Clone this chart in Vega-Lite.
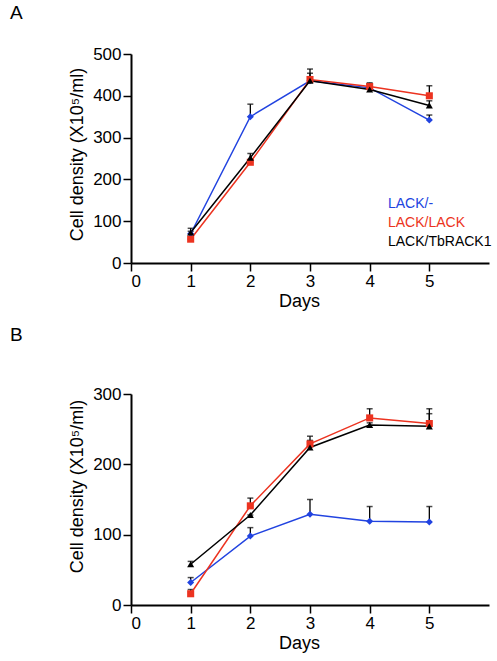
{
  "$schema": "https://vega.github.io/schema/vega-lite/v6.json",
  "padding": {"left": 10, "top": 4, "right": 2, "bottom": 2},
  "background": "white",
  "spacing": 16,
  "config": {
    "view": {"stroke": null},
    "font": "Liberation Sans",
    "axis": {
      "grid": false,
      "domainColor": "black",
      "domainWidth": 2,
      "tickColor": "black",
      "tickWidth": 1.5,
      "tickSize": 8,
      "labelFont": "Liberation Sans",
      "labelFontSize": 17,
      "labelColor": "black",
      "labelPadding": 2,
      "titleFont": "Liberation Sans",
      "titleFontSize": 18,
      "titleFontWeight": "normal",
      "titleColor": "black"
    },
    "title": {"font": "Liberation Sans", "fontSize": 19, "fontWeight": "normal", "color": "black", "anchor": "start", "frame": "group"}
  },
  "data": {"values": [
    {"panel": "A", "strain": "LACK/-", "day": 1, "value": 70, "upper": 76},
    {"panel": "A", "strain": "LACK/-", "day": 2, "value": 350, "upper": 380},
    {"panel": "A", "strain": "LACK/-", "day": 3, "value": 436, "upper": 440},
    {"panel": "A", "strain": "LACK/-", "day": 4, "value": 419, "upper": 428},
    {"panel": "A", "strain": "LACK/-", "day": 5, "value": 342, "upper": 354},
    {"panel": "A", "strain": "LACK/LACK", "day": 1, "value": 57, "upper": 57},
    {"panel": "A", "strain": "LACK/LACK", "day": 2, "value": 241, "upper": 241},
    {"panel": "A", "strain": "LACK/LACK", "day": 3, "value": 439, "upper": 454},
    {"panel": "A", "strain": "LACK/LACK", "day": 4, "value": 422, "upper": 431},
    {"panel": "A", "strain": "LACK/LACK", "day": 5, "value": 400, "upper": 424},
    {"panel": "A", "strain": "LACK/TbRACK1", "day": 1, "value": 73, "upper": 83},
    {"panel": "A", "strain": "LACK/TbRACK1", "day": 2, "value": 252, "upper": 262},
    {"panel": "A", "strain": "LACK/TbRACK1", "day": 3, "value": 436, "upper": 464},
    {"panel": "A", "strain": "LACK/TbRACK1", "day": 4, "value": 415, "upper": 428},
    {"panel": "A", "strain": "LACK/TbRACK1", "day": 5, "value": 377, "upper": 388},
    {"panel": "B", "strain": "LACK/-", "day": 1, "value": 32, "upper": 39},
    {"panel": "B", "strain": "LACK/-", "day": 2, "value": 98, "upper": 110},
    {"panel": "B", "strain": "LACK/-", "day": 3, "value": 129, "upper": 150},
    {"panel": "B", "strain": "LACK/-", "day": 4, "value": 119, "upper": 140},
    {"panel": "B", "strain": "LACK/-", "day": 5, "value": 118, "upper": 140},
    {"panel": "B", "strain": "LACK/LACK", "day": 1, "value": 16, "upper": 22},
    {"panel": "B", "strain": "LACK/LACK", "day": 2, "value": 141, "upper": 152},
    {"panel": "B", "strain": "LACK/LACK", "day": 3, "value": 229, "upper": 240},
    {"panel": "B", "strain": "LACK/LACK", "day": 4, "value": 266, "upper": 279},
    {"panel": "B", "strain": "LACK/LACK", "day": 5, "value": 258, "upper": 279},
    {"panel": "B", "strain": "LACK/TbRACK1", "day": 1, "value": 58, "upper": 62},
    {"panel": "B", "strain": "LACK/TbRACK1", "day": 2, "value": 128, "upper": 128},
    {"panel": "B", "strain": "LACK/TbRACK1", "day": 3, "value": 224, "upper": 234},
    {"panel": "B", "strain": "LACK/TbRACK1", "day": 4, "value": 256, "upper": 259},
    {"panel": "B", "strain": "LACK/TbRACK1", "day": 5, "value": 254, "upper": 272}
  ]},
  "vconcat": [
    {
      "width": 358,
      "height": 209,
      "title": {"text": "A", "dx": -121, "offset": 22},
      "encoding": {
        "x": {"field": "day", "type": "quantitative", "scale": {"domain": [0, 6], "nice": false},
              "axis": {"values": [0, 1, 2, 3, 4, 5], "title": "Days", "titleX": 168, "titlePadding": 3}},
        "y": {"field": "value", "type": "quantitative", "scale": {"domain": [0, 500], "nice": false},
              "axis": {"values": [0, 100, 200, 300, 400, 500], "title": "Cell density (X10⁵/ml)", "titleY": 100, "titlePadding": 6}}
      },
      "layer": [
        {"transform": [{"filter": "datum.panel === 'A'"}],
         "mark": {"type": "rule", "color": "black", "strokeWidth": 1.3}, "encoding": {"y2": {"field": "upper"}}},
        {"transform": [{"filter": "datum.panel === 'A'"}],
         "mark": {"type": "tick", "orient": "horizontal", "color": "black", "size": 6, "thickness": 1.5}, "encoding": {"y": {"field": "upper", "type": "quantitative"}}},
        {"transform": [{"filter": "datum.panel === 'A'"}],
         "mark": {"type": "line", "strokeWidth": 1.5},
         "encoding": {"color": {"field": "strain", "type": "nominal",
           "scale": {"domain": ["LACK/-", "LACK/LACK", "LACK/TbRACK1"], "range": ["#2143e0", "#ec3320", "#000000"]},
           "legend": {"orient": "none", "legendX": 243, "legendY": 143, "title": null, "symbolSize": 0, "symbolStrokeWidth": 0, "symbolOpacity": 0, "labelOffset": 0, "labelFontSize": 14, "labelFont": "Liberation Sans", "rowPadding": 5,
             "encode": {"labels": {"update": {"fill": {"scale": "color", "field": "value"}}}}}}}},
        {"transform": [{"filter": "datum.panel === 'A'"}],
         "mark": {"type": "point", "filled": true, "opacity": 1},
         "encoding": {"color": {"field": "strain", "type": "nominal"},
           "shape": {"field": "strain", "type": "nominal", "scale": {"domain": ["LACK/-", "LACK/LACK", "LACK/TbRACK1"], "range": ["diamond", "square", "triangle-up"]}, "legend": null},
           "size": {"value": 50}}},
        {"data": {"values": [{"label": "27 ᴼC"}]},
         "mark": {"type": "text", "align": "left", "baseline": "alphabetic", "fontSize": 17, "font": "Liberation Sans", "color": "black"},
         "encoding": {"text": {"field": "label"}, "x": {"datum": 0.46}, "y": {"datum": 442}}}
      ]
    },
    {
      "width": 358,
      "height": 211,
      "title": {"text": "B", "dx": -121, "offset": 40},
      "encoding": {
        "x": {"field": "day", "type": "quantitative", "scale": {"domain": [0, 6], "nice": false},
              "axis": {"values": [0, 1, 2, 3, 4, 5], "title": "Days", "titleX": 168, "titlePadding": 3}},
        "y": {"field": "value", "type": "quantitative", "scale": {"domain": [0, 300], "nice": false},
              "axis": {"values": [0, 100, 200, 300], "title": "Cell density (X10⁵/ml)", "titleY": 92, "titlePadding": 6}}
      },
      "layer": [
        {"transform": [{"filter": "datum.panel === 'B'"}],
         "mark": {"type": "rule", "color": "black", "strokeWidth": 1.3}, "encoding": {"y2": {"field": "upper"}}},
        {"transform": [{"filter": "datum.panel === 'B'"}],
         "mark": {"type": "tick", "orient": "horizontal", "color": "black", "size": 6, "thickness": 1.5}, "encoding": {"y": {"field": "upper", "type": "quantitative"}}},
        {"transform": [{"filter": "datum.panel === 'B'"}],
         "mark": {"type": "line", "strokeWidth": 1.5},
         "encoding": {"color": {"field": "strain", "type": "nominal"}}},
        {"transform": [{"filter": "datum.panel === 'B'"}],
         "mark": {"type": "point", "filled": true, "opacity": 1},
         "encoding": {"color": {"field": "strain", "type": "nominal"},
           "shape": {"field": "strain", "type": "nominal", "legend": null},
           "size": {"value": 50}}},
        {"data": {"values": [{"label": "35 ᴼC"}]},
         "mark": {"type": "text", "align": "left", "baseline": "alphabetic", "fontSize": 17, "font": "Liberation Sans", "color": "black"},
         "encoding": {"text": {"field": "label"}, "x": {"datum": 0.56}, "y": {"datum": 258}}}
      ]
    }
  ]
}
